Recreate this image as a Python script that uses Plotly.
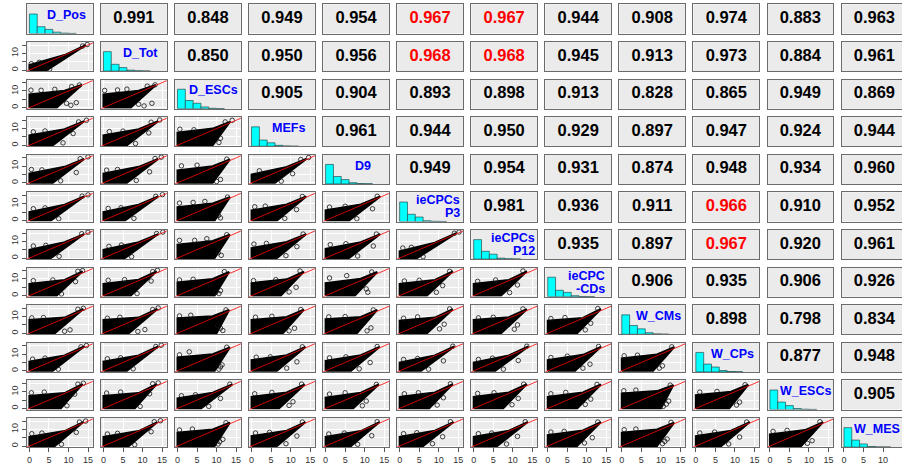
import plotly.graph_objects as go

# ---------------- data ----------------
var_names = ["D_Pos", "D_Tot", "D_ESCs", "MEFs", "D9", "ieCPCs P3", "ieCPCs P12",
             "ieCPC -CDs", "W_CMs", "W_CPs", "W_ESCs", "W_MES"]
diag_label_lines = [["D_Pos"], ["D_Tot"], ["D_ESCs"], ["MEFs"], ["D9"], ["ieCPCs", "P3"],
                    ["ieCPCs", "P12"], ["ieCPC", "-CDs"], ["W_CMs"], ["W_CPs"], ["W_ESCs"], ["W_MES"]]

# upper-triangle correlations, row i lists columns i+1..11
corr_rows = [
    [0.991, 0.848, 0.949, 0.954, 0.967, 0.967, 0.944, 0.908, 0.974, 0.883, 0.963],
    [0.850, 0.950, 0.956, 0.968, 0.968, 0.945, 0.913, 0.973, 0.884, 0.961],
    [0.905, 0.904, 0.893, 0.898, 0.913, 0.828, 0.865, 0.949, 0.869],
    [0.961, 0.944, 0.950, 0.929, 0.897, 0.947, 0.924, 0.944],
    [0.949, 0.954, 0.931, 0.874, 0.948, 0.934, 0.960],
    [0.981, 0.936, 0.911, 0.966, 0.910, 0.952],
    [0.935, 0.897, 0.967, 0.920, 0.961],
    [0.906, 0.935, 0.906, 0.926],
    [0.898, 0.798, 0.834],
    [0.877, 0.948],
    [0.905],
]
# cells printed in red (row, col)
red_cells = [(0, 5), (0, 6), (1, 5), (1, 6), (5, 9), (6, 9)]

# histogram (diagonal) relative bar heights, bins of width 2 starting at 0
hist_bin_centers = [1, 3, 5, 7, 9, 11]
hist_heights = [
    [1.0, 0.35, 0.21, 0.07, 0.020, 0.005],
    [1.0, 0.35, 0.18, 0.05, 0.015, 0.004],
    [1.0, 0.42, 0.28, 0.09, 0.020, 0.005],
    [1.0, 0.32, 0.18, 0.05, 0.015, 0.004],
    [1.0, 0.38, 0.22, 0.06, 0.015, 0.004],
    [1.0, 0.37, 0.23, 0.04, 0.010, 0.003],
    [1.0, 0.40, 0.25, 0.05, 0.015, 0.004],
    [1.0, 0.33, 0.22, 0.05, 0.010, 0.003],
    [1.0, 0.45, 0.28, 0.08, 0.020, 0.005],
    [1.0, 0.40, 0.25, 0.07, 0.020, 0.005],
    [1.0, 0.38, 0.20, 0.05, 0.015, 0.004],
    [1.0, 0.36, 0.16, 0.03, 0.010, 0.003],
]

# dense point-cloud envelopes of the lower panels (row i, column j<i)
cloud_top0 = [
    [3.0],
    [8.0, 8.0],
    [6.0, 6.0, 7.5],
    [5.5, 5.5, 7.5, 5.0],
    [5.0, 5.0, 8.0, 6.0, 6.0],
    [5.0, 5.0, 8.0, 6.0, 5.5, 4.0],
    [7.0, 7.0, 8.0, 7.5, 7.5, 7.0, 7.0],
    [8.0, 8.0, 9.0, 8.0, 8.5, 7.5, 8.0, 7.5],
    [5.5, 5.5, 8.0, 6.5, 6.0, 5.0, 5.0, 6.5, 7.5],
    [7.5, 7.5, 6.0, 7.0, 6.5, 7.0, 7.0, 7.0, 9.0, 8.0],
    [5.5, 5.5, 8.0, 6.0, 5.5, 5.5, 5.5, 6.5, 8.0, 6.0, 7.0],
]
cloud_shoulder_y = [
    [9.0],
    [10.2, 10.2],
    [9.6, 9.6, 10.0],
    [9.6, 9.6, 10.0, 9.5],
    [9.5, 9.5, 10.2, 9.6, 9.6],
    [9.5, 9.5, 10.2, 9.6, 9.5, 9.2],
    [9.4, 9.6, 10.0, 9.8, 10.2, 9.4, 9.4],
    [9.4, 9.4, 10.2, 9.8, 9.8, 9.4, 9.6, 9.2],
    [9.2, 9.2, 10.0, 9.4, 9.4, 9.2, 9.2, 9.6, 9.8],
    [9.2, 9.2, 9.4, 9.6, 9.4, 9.6, 9.6, 9.6, 10.4, 10.0],
    [9.0, 9.0, 10.0, 9.2, 9.0, 9.2, 9.2, 9.4, 10.0, 9.2, 9.6],
]
cloud_base = [
    [4.5],
    [7.0, 7.0],
    [6.0, 6.0, 9.0],
    [6.0, 6.0, 9.0, 6.0],
    [5.5, 5.5, 9.5, 6.5, 6.0],
    [5.5, 5.5, 9.5, 6.5, 6.0, 4.5],
    [7.0, 7.0, 9.5, 7.5, 7.5, 7.0, 7.0],
    [6.5, 6.5, 10.0, 8.0, 8.0, 7.0, 7.0, 7.5],
    [6.0, 6.0, 9.5, 6.5, 6.5, 5.5, 5.5, 7.0, 8.0],
    [8.0, 8.0, 6.0, 7.0, 7.0, 7.5, 7.5, 7.5, 10.0, 8.5],
    [6.5, 6.5, 9.5, 6.5, 6.5, 6.0, 6.0, 7.5, 9.0, 6.5, 8.0],
]
cloud_tip_x = [
    [14.4],
    [13.4, 13.4],
    [14.0, 14.0, 13.4],
    [14.0, 14.0, 13.4, 14.0],
    [14.0, 14.0, 13.4, 14.0, 14.0],
    [14.0, 14.0, 13.4, 14.0, 14.0, 14.4],
    [13.6, 13.6, 13.2, 13.4, 13.2, 13.6, 13.6],
    [13.8, 13.8, 13.2, 13.4, 13.2, 13.6, 13.6, 13.6],
    [14.0, 14.0, 13.4, 13.8, 13.8, 14.0, 14.0, 13.6, 13.4],
    [13.6, 13.6, 14.0, 13.6, 13.6, 13.6, 13.6, 13.6, 13.2, 13.4],
    [13.8, 13.8, 13.4, 13.8, 13.8, 13.8, 13.8, 13.6, 13.4, 13.8, 13.6],
]
cloud_tip_y = [
    [15.0],
    [13.6, 13.6],
    [14.4, 14.4, 14.0],
    [14.4, 14.4, 14.0, 14.4],
    [14.4, 14.4, 14.0, 14.4, 14.4],
    [14.4, 14.4, 14.0, 14.4, 14.4, 14.8],
    [14.6, 14.6, 14.2, 14.4, 14.2, 14.6, 14.6],
    [14.6, 14.6, 14.0, 14.2, 14.0, 14.4, 14.4, 14.6],
    [14.6, 14.6, 14.0, 14.4, 14.4, 14.6, 14.6, 14.4, 14.2],
    [14.6, 14.6, 14.4, 14.4, 14.4, 14.6, 14.6, 14.4, 14.0, 14.2],
    [14.4, 14.4, 14.0, 14.4, 14.4, 14.4, 14.4, 14.4, 14.0, 14.4, 14.4],
]
cloud_shoulder_x = 9.0

# isolated points drawn as open circles
outlier_pts = [
    [[(5.2, 0.6), (13.6, 14.4), (14.8, 15.3), (0.5, 3.8), (2.5, 4.6)]],
    [[(0.4, 10.5), (3.0, 10.4), (6.5, 11.0), (10.8, 12.6), (12.8, 13.6), (9.5, 2.6), (10.6, 1.4), (12.0, 3.0)],
     [(0.3, 10.3), (3.6, 10.6), (6.0, 11.1), (11.2, 12.9), (13.2, 13.7), (9.0, 2.0), (10.4, 1.0), (12.4, 2.6)]],
    [[(1.0, 8.0), (4.0, 8.6), (12.6, 14.0), (14.6, 15.0), (8.6, 1.4), (11.2, 7.0)],
     [(1.5, 8.2), (5.0, 8.5), (12.2, 13.8), (14.4, 15.2), (8.2, 1.0), (11.6, 7.4)],
     [(0.6, 9.6), (4.2, 9.3), (12.2, 14.0), (14.0, 15.0), (10.6, 1.6), (11.0, 4.2)]],
    [[(0.5, 8.0), (3.2, 7.8), (13.0, 14.5), (15.0, 15.6), (8.0, 1.2), (12.0, 6.2)],
     [(0.8, 7.6), (3.6, 8.0), (13.2, 14.6), (14.8, 15.4), (8.4, 1.4), (11.8, 6.6)],
     [(1.0, 10.2), (5.0, 10.6), (12.6, 14.2), (11.0, 2.0), (10.0, 0.8), (9.5, 4.0)],
     [(2.0, 7.2), (12.6, 14.0), (14.6, 15.2), (7.6, 1.0), (10.5, 5.5)]],
    [[(1.0, 7.0), (4.0, 7.5), (13.5, 14.6), (15.0, 15.4), (7.5, 1.0)],
     [(1.2, 7.2), (4.5, 7.6), (13.4, 14.5), (15.1, 15.5), (7.8, 1.2)],
     [(0.5, 10.4), (4.0, 10.8), (7.0, 11.4), (12.8, 14.0), (11.0, 1.5), (10.5, 3.0)],
     [(0.8, 8.2), (3.5, 8.6), (13.0, 14.4), (8.5, 1.2), (11.5, 6.5)],
     [(1.0, 8.0), (5.0, 8.5), (13.2, 14.5), (8.0, 1.0), (12.0, 7.0)]],
    [[(1.0, 7.2), (4.2, 7.6), (13.4, 14.6), (15.0, 15.5), (7.6, 1.0)],
     [(1.4, 7.0), (4.6, 7.8), (13.6, 14.7), (15.2, 15.6), (7.2, 0.8)],
     [(0.5, 10.6), (4.4, 10.6), (7.5, 11.6), (12.6, 14.0), (11.2, 1.6), (10.4, 3.2)],
     [(0.6, 8.4), (3.8, 8.8), (13.2, 14.4), (8.8, 1.4), (11.6, 6.8)],
     [(1.2, 8.0), (5.2, 8.6), (13.0, 14.4), (8.2, 1.2), (12.2, 7.2)],
     [(0.8, 6.0), (3.0, 6.4), (14.0, 14.9), (15.2, 15.6), (6.0, 0.8)]],
    [[(1.0, 9.0), (6.0, 9.4), (12.4, 14.6), (13.6, 15.0), (11.8, 8.4), (8.2, 1.0)],
     [(1.2, 9.2), (5.4, 9.6), (12.6, 14.4), (13.8, 15.2), (12.2, 8.8), (8.6, 1.2)],
     [(0.5, 9.4), (4.0, 9.8), (12.0, 14.4), (11.0, 3.0), (10.6, 1.2), (9.8, 2.0)],
     [(0.5, 9.0), (6.2, 9.6), (12.4, 14.8), (11.4, 5.0), (9.6, 2.2)],
     [(1.0, 10.6), (5.4, 12.0), (11.8, 14.2), (10.4, 4.0), (10.8, 2.0)],
     [(1.2, 8.8), (5.0, 9.2), (12.8, 14.6), (9.4, 2.0), (11.0, 6.0)],
     [(1.0, 8.6), (5.6, 9.4), (12.6, 14.8), (9.2, 1.8), (11.2, 6.4)]],
    [[(0.6, 9.2), (3.6, 9.4), (12.4, 14.4), (13.8, 15.0), (9.0, 1.2), (10.4, 2.0)],
     [(1.0, 9.0), (4.2, 9.6), (12.6, 14.2), (14.0, 15.2), (8.8, 1.0), (10.6, 2.2)],
     [(0.5, 10.4), (3.4, 10.8), (12.4, 14.0), (11.0, 3.0), (11.6, 1.6), (10.2, 4.6)],
     [(1.0, 9.6), (5.2, 10.2), (12.6, 14.2), (11.0, 3.0), (9.6, 1.4)],
     [(0.8, 9.8), (5.0, 10.0), (12.2, 14.0), (11.6, 3.2), (10.6, 1.4)],
     [(1.0, 9.0), (4.6, 9.8), (12.8, 14.6), (10.2, 2.6), (11.4, 5.4)],
     [(1.2, 9.2), (5.0, 9.6), (12.6, 14.6), (10.4, 2.4), (11.2, 5.0)],
     [(0.8, 8.8), (4.4, 9.4), (12.8, 14.8), (9.6, 2.0), (11.0, 6.0)]],
    [[(0.8, 7.0), (4.0, 7.6), (13.2, 14.4), (14.6, 15.2), (7.4, 1.0)],
     [(1.0, 7.2), (4.4, 7.8), (13.4, 14.6), (14.8, 15.4), (7.6, 1.2)],
     [(0.5, 9.6), (3.0, 11.4), (12.6, 14.2), (11.0, 2.4), (10.6, 1.0), (11.4, 3.6)],
     [(1.2, 8.2), (4.8, 8.4), (13.0, 14.4), (9.0, 1.6), (11.6, 5.4)],
     [(1.0, 7.8), (5.2, 8.4), (13.2, 14.6), (8.6, 1.2), (11.4, 5.0)],
     [(1.0, 6.8), (4.6, 7.4), (13.6, 14.8), (7.4, 1.0), (11.2, 6.0)],
     [(1.2, 6.8), (4.8, 7.6), (13.6, 14.8), (7.6, 1.0), (11.4, 6.2)],
     [(0.8, 8.0), (5.0, 8.8), (13.0, 14.6), (9.0, 1.6), (10.8, 4.0)],
     [(0.6, 9.0), (4.0, 9.4), (12.8, 14.4), (9.6, 1.6), (10.4, 3.0)]],
    [[(0.5, 9.4), (3.8, 9.8), (12.4, 14.6), (13.8, 15.2), (11.6, 8.6), (9.6, 1.6)],
     [(0.8, 9.2), (4.4, 9.8), (12.6, 14.8), (14.0, 15.4), (11.8, 8.8), (9.4, 1.2)],
     [(1.0, 7.6), (4.6, 8.2), (13.4, 14.6), (8.0, 1.2), (11.0, 6.0)],
     [(0.8, 8.8), (5.2, 9.6), (12.8, 14.6), (10.6, 4.0), (9.6, 1.8)],
     [(1.0, 8.6), (5.0, 9.4), (13.0, 14.4), (10.4, 4.4), (9.4, 1.6)],
     [(1.2, 8.8), (4.8, 9.4), (13.0, 14.8), (9.6, 2.0), (11.2, 6.4)],
     [(1.0, 9.0), (5.2, 9.4), (12.8, 14.6), (9.8, 2.2), (11.4, 6.0)],
     [(0.8, 8.8), (4.6, 9.6), (12.6, 14.4), (9.6, 2.4), (11.0, 5.6)],
     [(0.5, 10.6), (3.6, 11.0), (12.4, 14.0), (11.4, 2.6), (10.6, 1.2), (12.0, 4.4)],
     [(1.0, 9.8), (5.4, 10.2), (12.6, 14.2), (10.4, 2.0), (11.2, 3.8)]],
    [[(0.6, 7.4), (3.2, 7.8), (12.8, 14.4), (14.4, 15.0), (12.0, 8.2), (8.2, 1.0)],
     [(1.0, 7.2), (3.6, 7.6), (13.0, 14.6), (14.6, 15.2), (12.2, 8.6), (8.0, 0.8)],
     [(0.5, 9.6), (3.8, 10.2), (12.4, 14.0), (10.8, 2.6), (10.4, 1.2), (11.6, 4.0)],
     [(1.0, 7.8), (4.6, 8.2), (13.0, 14.4), (8.8, 1.4), (11.6, 6.0)],
     [(0.8, 7.2), (4.8, 7.8), (13.2, 14.6), (8.2, 1.0), (11.8, 6.2)],
     [(1.0, 7.4), (4.4, 8.0), (13.0, 14.6), (8.4, 1.4), (11.0, 5.6)],
     [(1.2, 7.4), (4.6, 7.8), (13.2, 14.6), (8.4, 1.2), (11.2, 5.8)],
     [(0.8, 8.4), (4.2, 8.8), (12.8, 14.4), (9.4, 1.8), (11.4, 5.0)],
     [(0.6, 9.8), (3.6, 10.2), (12.6, 14.2), (11.0, 2.8), (10.4, 1.4), (11.6, 4.2)],
     [(1.0, 7.8), (4.8, 8.4), (13.0, 14.4), (8.4, 1.2), (11.2, 5.4)],
     [(0.8, 8.8), (4.4, 9.4), (12.8, 14.6), (9.6, 1.6), (10.8, 3.2)]],
]
identity_line = [-1.0, 17.0]
axis_ticks = [0, 5, 10, 15]
y_tick_text = ["0", "", "10", ""]

# ---------------- layout geometry (pixels) ----------------
W, H = 902, 470
N = 12
COL_LEFT0, COL_STEP, PW = 27.0, 74.05, 65.7
ROW_TOP0, ROW_STEP, PH = 4.3, 37.6, 29.2
XLO, XHI = -0.62, 16.2
YLO, YHI = -0.65, 16.9
px_per_x = PW / (XHI - XLO)
BG = "#EBEBEB"
BORDER = "#6b6b6b"
FONT = "Liberation Sans, Arial, sans-serif"
LABEL_SIZE = 12.5
LINE_PITCH = 13.0

fig = go.Figure()
layout = {}
annotations = []

char_w = {"_": 0.556, "-": 0.333}


def text_width(s, size):
    w = 0.0
    for ch in s:
        if ch in char_w:
            w += char_w[ch]
        elif ch.isdigit():
            w += 0.556
        elif ch.isupper():
            w += 0.74
        else:
            w += 0.6
    return w * size


for i in range(N):
    for j in range(N):
        k = i * N + j + 1
        xa = "x" if k == 1 else f"x{k}"
        ya = "y" if k == 1 else f"y{k}"
        left = COL_LEFT0 + COL_STEP * j
        top = ROW_TOP0 + ROW_STEP * i
        right = min(left + PW, W)
        x0, x1 = left / W, right / W
        y1 = 1 - top / H
        y0 = 1 - (top + PH) / H
        xhi = XLO + (right - left) / px_per_x

        xax = dict(domain=[x0, x1], anchor=ya, range=[XLO, xhi], showline=True, mirror=True,
                   linecolor=BORDER, linewidth=1, zeroline=False, fixedrange=True,
                   automargin=False, tickvals=axis_ticks, showgrid=False,
                   showticklabels=False, ticks="")
        yax = dict(domain=[y0, y1], anchor=xa, range=[YLO, YHI], showline=True, mirror=True,
                   linecolor=BORDER, linewidth=1, zeroline=False, fixedrange=True,
                   automargin=False, tickvals=axis_ticks, showgrid=False,
                   showticklabels=False, ticks="")
        if i == N - 1:
            xax.update(ticks="outside", ticklen=4, tickcolor="#555", tickwidth=1,
                       showticklabels=True, tickfont=dict(size=9, color="#333", family=FONT))

        if i > j:
            # scatter panel
            xax.update(showgrid=True, gridcolor="white", gridwidth=1)
            yax.update(showgrid=True, gridcolor="white", gridwidth=1)
            if j == 0:
                yax.update(ticks="outside", ticklen=4, tickcolor="#555", tickwidth=1,
                           showticklabels=True, ticktext=y_tick_text, tickangle=-90,
                           tickfont=dict(size=9, color="#333", family=FONT))
            r, c = i - 1, j
            top0 = cloud_top0[r][c]
            poly_x = [0.0, 0.0, cloud_shoulder_x, cloud_tip_x[r][c], cloud_base[r][c], 0.0]
            poly_y = [0.0, top0, cloud_shoulder_y[r][c], cloud_tip_y[r][c], 0.0, 0.0]
            fig.add_trace(go.Scatter(x=poly_x, y=poly_y, xaxis=xa, yaxis=ya, mode="lines",
                                     fill="toself", fillcolor="black",
                                     line=dict(color="black", width=2), hoverinfo="skip",
                                     showlegend=False))
            pts = outlier_pts[r][c]
            fig.add_trace(go.Scatter(x=[p[0] for p in pts], y=[p[1] for p in pts],
                                     xaxis=xa, yaxis=ya, mode="markers",
                                     marker=dict(symbol="circle-open", size=4.5, color="#111",
                                                 line=dict(width=0.8)),
                                     hoverinfo="skip", showlegend=False))
            fig.add_trace(go.Scatter(x=identity_line, y=identity_line, xaxis=xa, yaxis=ya,
                                     mode="lines", line=dict(color="rgba(255,0,0,0.8)", width=1),
                                     hoverinfo="skip", showlegend=False))
        elif i == j:
            yax.update(range=[0, 1.5])
            fig.add_trace(go.Bar(x=hist_bin_centers, y=hist_heights[i], width=2,
                                 xaxis=xa, yaxis=ya,
                                 marker=dict(color="#00FFFF", line=dict(color="#2a4d4d", width=0.7)),
                                 hoverinfo="skip", showlegend=False))
            lines = diag_label_lines[i]
            tw = max(text_width(s, LABEL_SIZE) for s in lines)
            cx = left + 39.5
            limit = right - 1.5
            if cx + tw / 2 > limit:
                ax_px, anchor = limit, "right"
            elif len(lines) > 1:
                ax_px, anchor = cx + tw / 2, "right"
            else:
                ax_px, anchor = cx, "center"
            first_top = top + (0.0 if len(lines) > 1 else 3.0)
            for n, s in enumerate(lines):
                annotations.append(dict(text=f"<b>{s}</b>", x=ax_px / W,
                                        y=1 - (first_top + LINE_PITCH * n) / H,
                                        xref="paper", yref="paper", xanchor=anchor,
                                        yanchor="top", showarrow=False, borderpad=0,
                                        font=dict(size=LABEL_SIZE, color="#0000FF", family=FONT)))
        else:
            val = corr_rows[i][j - i - 1]
            col = "#FF0000" if (i, j) in red_cells else "black"
            yax.update(range=[0, 1])
            xax.update(range=[0, (right - left) / PW])
            fig.add_trace(go.Scatter(x=[0.5], y=[0.5], xaxis=xa, yaxis=ya, mode="text",
                                     text=[f"<b>{val:.3f}</b>"], textposition="middle center",
                                     textfont=dict(size=16.5, color=col, family=FONT),
                                     hoverinfo="skip", showlegend=False, cliponaxis=False))

        layout["xaxis" if k == 1 else f"xaxis{k}"] = xax
        layout["yaxis" if k == 1 else f"yaxis{k}"] = yax

fig.update_layout(**layout)
fig.update_layout(width=W, height=H, margin=dict(l=0, r=0, t=0, b=0, autoexpand=False),
                  plot_bgcolor=BG, paper_bgcolor="white", annotations=annotations,
                  bargap=0, font=dict(family=FONT), showlegend=False)
fig.write_html("out.html", config=dict(displayModeBar=False, staticPlot=True),
               post_script="document.body.style.margin='0';document.body.style.padding='0';")
